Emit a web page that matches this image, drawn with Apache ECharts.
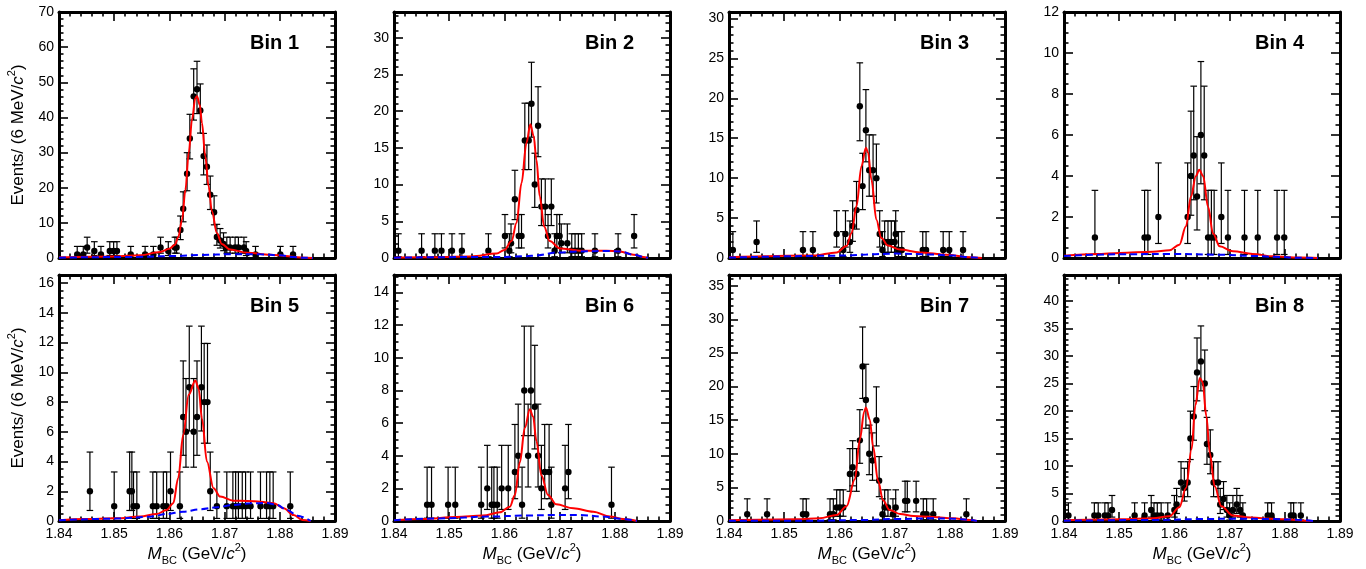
<!DOCTYPE html>
<html>
<head>
<meta charset="utf-8">
<script src="https://cdn.jsdelivr.net/npm/echarts@6/dist/echarts.min.js"></script>
<style>
  html, body { margin: 0; padding: 0; background: #fff; }
  #chart { width: 1366px; height: 569px; }
</style>
</head>
<body>
<div id="chart"></div>
<script>
// M_BC fits in eight bins: data counts [M_BC, events], total fit (red) and background (blue dashed)

const bin1Events = [[1.8433,1],[1.8444,1],[1.8451,3],[1.8464,2],[1.8476,1],[1.8492,2],[1.8499,2],[1.8505,2],[1.8530,1],[1.8556,1],[1.8571,1],[1.8584,3],[1.8598,2],[1.8610,3],[1.8613,3],[1.8620,8],[1.8625,14],[1.8632,24],[1.8637,34],[1.8644,46],[1.8650,48],[1.8656,42],[1.8662,29],[1.8668,26],[1.8674,18],[1.8681,13],[1.8686,6],[1.8692,5],[1.8698,4],[1.8704,3],[1.8710,3],[1.8719,3],[1.8725,3],[1.8735,3],[1.8739,2],[1.8756,1],[1.8801,1],[1.8824,1]];
const bin1Total = [[1.8400,0.2],[1.8500,0.45],[1.8547,0.8],[1.8583,1.7],[1.8600,2.6],[1.8610,3.8],[1.8616,5.9],[1.8623,10.9],[1.8629,19.4],[1.8635,29.9],[1.8641,39.4],[1.8647,45.5],[1.8650,46],[1.8655,43.6],[1.8659,38.4],[1.8665,28.9],[1.8671,20.4],[1.8677,13.3],[1.8686,7.1],[1.8695,4.0],[1.8710,2.4],[1.8741,1.5],[1.8783,0.9],[1.8810,0.6],[1.8838,0.15],[1.8860,0]];
const bin1Background = [[1.8400,0.1],[1.8535,0.3],[1.8607,0.55],[1.8656,0.85],[1.8716,1.1],[1.8765,1.05],[1.8801,0.75],[1.8825,0.3],[1.8840,0.1],[1.8860,0]];

const bin2Events = [[1.8408,1],[1.8450,1],[1.8474,1],[1.8486,1],[1.8505,1],[1.8523,1],[1.8571,1],[1.8601,3],[1.8609,1],[1.8612,2],[1.8619,8],[1.8626,3],[1.8631,3],[1.8637,16],[1.8644,16],[1.8649,21],[1.8655,10],[1.8661,18],[1.8667,7],[1.8674,7],[1.8679,3],[1.8685,7],[1.8691,1],[1.8695,3],[1.8700,3],[1.8703,2],[1.8714,2],[1.8722,1],[1.8728,1],[1.8734,1],[1.8740,1],[1.8764,1],[1.8806,1],[1.8835,3]];
const bin2Total = [[1.8400,0.05],[1.8450,0.1],[1.8540,0.2],[1.8586,0.6],[1.8600,1.1],[1.8613,2.3],[1.8622,4.8],[1.8631,10.2],[1.8640,15.7],[1.8647,18.2],[1.8653,16.6],[1.8658,13.4],[1.8664,8.4],[1.8672,4.3],[1.8682,2.3],[1.8701,1.3],[1.8737,1.0],[1.8785,1.0],[1.8809,0.9],[1.8834,0.45],[1.8855,0.1],[1.8860,0]];
const bin2Background = [[1.8400,0.05],[1.8600,0.15],[1.8640,0.25],[1.8658,0.35],[1.8695,0.75],[1.8737,0.9],[1.8785,0.95],[1.8809,0.9],[1.8834,0.45],[1.8855,0.1],[1.8860,0]];

const bin3Events = [[1.8407,1],[1.8450,2],[1.8534,1],[1.8552,1],[1.8595,3],[1.8607,1],[1.8611,3],[1.8619,2],[1.8624,4],[1.8631,6],[1.8637,19],[1.8642,9],[1.8648,16],[1.8654,11],[1.8661,11],[1.8667,10],[1.8673,3],[1.8678,1],[1.8682,2],[1.8688,2],[1.8694,2],[1.8700,2],[1.8702,3],[1.8707,1],[1.8713,1],[1.8751,1],[1.8757,1],[1.8788,1],[1.8799,1],[1.8824,1]];
const bin3Total = [[1.8400,0.08],[1.8552,0.3],[1.8595,0.7],[1.8613,1.5],[1.8622,3.1],[1.8631,6.5],[1.8640,11.5],[1.8648,13.8],[1.8652,13.2],[1.8658,9.8],[1.8667,4.8],[1.8676,2.5],[1.8688,1.55],[1.8710,1.05],[1.8746,0.7],[1.8794,0.4],[1.8837,0.1],[1.8858,0]];
const bin3Background = [[1.8400,0.05],[1.8613,0.3],[1.8649,0.45],[1.8703,0.55],[1.8764,0.45],[1.8806,0.3],[1.8837,0.1],[1.8858,0]];

const bin4Events = [[1.8456,1],[1.8546,1],[1.8552,1],[1.8571,2],[1.8624,2],[1.8630,4],[1.8635,5],[1.8641,3],[1.8648,6],[1.8654,5],[1.8661,1],[1.8667,1],[1.8672,1],[1.8685,2],[1.8697,1],[1.8727,1],[1.8751,1],[1.8786,1],[1.8799,1]];
const bin4Total = [[1.8400,0.11],[1.8459,0.2],[1.8501,0.25],[1.8561,0.3],[1.8591,0.38],[1.8609,0.65],[1.8621,1.55],[1.8630,3.0],[1.8639,4.0],[1.8645,4.3],[1.8652,4.0],[1.8661,2.5],[1.8670,1.2],[1.8682,0.57],[1.8706,0.33],[1.8742,0.2],[1.8778,0.08],[1.8826,0.02],[1.8860,0]];
const bin4Background = [[1.8400,0.1],[1.8501,0.18],[1.8591,0.2],[1.8682,0.16],[1.8742,0.1],[1.8790,0.05],[1.8826,0.01],[1.8860,0]];

const bin5Events = [[1.8456,2],[1.8500,1],[1.8528,2],[1.8532,2],[1.8535,1],[1.8541,1],[1.8570,1],[1.8577,1],[1.8589,1],[1.8595,1],[1.8602,2],[1.8619,1],[1.8625,7],[1.8630,6],[1.8636,9],[1.8644,6],[1.8650,7],[1.8658,9],[1.8663,8],[1.8669,8],[1.8674,2],[1.8686,1],[1.8704,1],[1.8715,1],[1.8720,1],[1.8725,1],[1.8732,1],[1.8738,1],[1.8747,1],[1.8765,1],[1.8776,1],[1.8782,1],[1.8788,1],[1.8819,1]];
const bin5Total = [[1.8400,0.05],[1.8444,0.13],[1.8504,0.18],[1.8547,0.3],[1.8577,0.47],[1.8595,0.74],[1.8607,1.2],[1.8616,2.9],[1.8625,5.8],[1.8635,8.5],[1.8647,9.45],[1.8653,8.9],[1.8659,6.9],[1.8668,4.0],[1.8680,2.2],[1.8692,1.64],[1.8716,1.37],[1.8741,1.35],[1.8765,1.3],[1.8789,1.2],[1.8807,0.85],[1.8825,0.4],[1.8841,0.07],[1.8856,0]];
const bin5Background = [[1.8400,0.05],[1.8504,0.16],[1.8565,0.29],[1.8595,0.47],[1.8625,0.63],[1.8656,0.79],[1.8686,0.92],[1.8716,1.08],[1.8747,1.19],[1.8777,1.21],[1.8795,1.08],[1.8813,0.74],[1.8832,0.36],[1.8856,0]];

const bin6Events = [[1.8460,1],[1.8468,1],[1.8498,1],[1.8511,1],[1.8558,1],[1.8569,2],[1.8577,1],[1.8581,1],[1.8587,1],[1.8595,2],[1.8607,2],[1.8619,3],[1.8625,4],[1.8632,1],[1.8636,8],[1.8643,4],[1.8648,8],[1.8655,7],[1.8661,4],[1.8667,2],[1.8673,3],[1.8681,3],[1.8685,1],[1.8710,2],[1.8716,3],[1.8794,1]];
const bin6Total = [[1.8400,0.05],[1.8453,0.12],[1.8513,0.25],[1.8561,0.33],[1.8592,0.53],[1.8610,0.88],[1.8619,1.6],[1.8628,3.6],[1.8637,5.7],[1.8646,6.85],[1.8652,6.4],[1.8658,4.9],[1.8667,2.8],[1.8679,1.6],[1.8694,1.02],[1.8725,0.78],[1.8761,0.57],[1.8791,0.27],[1.8815,0.12],[1.8840,0]];
const bin6Background = [[1.8400,0.05],[1.8483,0.16],[1.8574,0.27],[1.8634,0.33],[1.8694,0.37],[1.8737,0.37],[1.8779,0.27],[1.8809,0.14],[1.8840,0]];

const bin7Events = [[1.8433,1],[1.8469,1],[1.8534,1],[1.8540,1],[1.8583,1],[1.8589,1],[1.8595,2],[1.8601,2],[1.8607,2],[1.8619,7],[1.8624,8],[1.8631,7],[1.8637,12],[1.8642,23],[1.8648,18],[1.8654,10],[1.8660,9],[1.8667,15],[1.8672,6],[1.8678,1],[1.8682,2],[1.8688,2],[1.8697,1],[1.8702,2],[1.8719,3],[1.8723,3],[1.8739,3],[1.8752,1],[1.8758,1],[1.8770,1],[1.8830,1]];
const bin7Total = [[1.8400,0.1],[1.8522,0.25],[1.8564,0.4],[1.8595,0.9],[1.8613,2.2],[1.8628,6.2],[1.8637,12.1],[1.8645,16.3],[1.8648,16.9],[1.8655,15.1],[1.8661,11.1],[1.8670,6.0],[1.8679,3.1],[1.8691,1.64],[1.8710,1.04],[1.8734,0.74],[1.8770,0.6],[1.8806,0.4],[1.8837,0.15],[1.8849,0]];
const bin7Background = [[1.8400,0.05],[1.8552,0.05],[1.8643,0.15],[1.8704,0.3],[1.8764,0.4],[1.8806,0.35],[1.8837,0.15],[1.8849,0]];

const bin8Events = [[1.8408,1],[1.8455,1],[1.8462,1],[1.8474,1],[1.8480,1],[1.8487,2],[1.8528,1],[1.8546,1],[1.8558,2],[1.8563,1],[1.8569,1],[1.8576,1],[1.8588,1],[1.8600,2],[1.8604,3],[1.8612,7],[1.8618,6],[1.8624,7],[1.8629,15],[1.8635,19],[1.8641,27],[1.8648,29],[1.8655,25],[1.8659,14],[1.8665,12],[1.8671,7],[1.8679,7],[1.8683,3],[1.8689,4],[1.8695,2],[1.8700,1],[1.8706,2],[1.8713,3],[1.8719,2],[1.8724,1],[1.8769,1],[1.8776,1],[1.8811,1],[1.8816,1],[1.8829,1]];
const bin8Total = [[1.8400,0.1],[1.8501,0.3],[1.8561,0.5],[1.8591,0.85],[1.8609,2.5],[1.8621,6],[1.8631,13],[1.8638,21],[1.8646,26],[1.8651,25.3],[1.8658,19],[1.8664,12.4],[1.8673,6.3],[1.8685,2.7],[1.8706,1.0],[1.8730,0.7],[1.8766,0.45],[1.8802,0.3],[1.8838,0.06],[1.8851,0]];
const bin8Background = [[1.8400,0.06],[1.8561,0.18],[1.8652,0.36],[1.8713,0.42],[1.8773,0.36],[1.8821,0.24],[1.8851,0]];

const binLabels = ['Bin 1', 'Bin 2', 'Bin 3', 'Bin 4', 'Bin 5', 'Bin 6', 'Bin 7', 'Bin 8'];
const yMax = [70, 33.5, 30.8, 12, 16.55, 15.08, 36.6, 44.7];
const yMajorStep = [10, 5, 5, 2, 2, 2, 5, 5];
const yMinorDivisions = [5, 5, 5, 4, 4, 4, 5, 5];
const massRange = [1.84, 1.89];
const massMajorStep = 0.01;
const massMinorDivisions = 5;

const eventsPerBin = [bin1Events, bin2Events, bin3Events, bin4Events, bin5Events, bin6Events, bin7Events, bin8Events];
const totalPerBin = [bin1Total, bin2Total, bin3Total, bin4Total, bin5Total, bin6Total, bin7Total, bin8Total];
const bkgPerBin = [bin1Background, bin2Background, bin3Background, bin4Background, bin5Background, bin6Background, bin7Background, bin8Background];

// Frame geometry of the 2 x 4 panel layout
const colLeft = [59, 394, 729, 1064];
const rowTop = [12, 275];
const frameW = 276;
const frameH = 246;

const FONT = '"Liberation Sans", Arial, Helvetica, sans-serif';

// 68.27% central Poisson (Garwood) interval for an observed count n
function poissonCdf(n, mu) {
  let term = Math.exp(-mu), sum = term;
  for (let k = 1; k <= n; k++) { term *= mu / k; sum += term; }
  return sum;
}
function poissonInterval(n) {
  const a = (1 - 0.682689) / 2;
  let lo = 0;
  if (n > 0) {
    let l = 0, h = n;
    for (let i = 0; i < 60; i++) {
      const m = (l + h) / 2;
      if (1 - poissonCdf(n - 1, m) < a) l = m; else h = m;
    }
    lo = (l + h) / 2;
  }
  let l = n, h = n + 10 * Math.sqrt(n + 1) + 10;
  for (let i = 0; i < 60; i++) {
    const m = (l + h) / 2;
    if (poissonCdf(n, m) > a) l = m; else h = m;
  }
  return [lo, (l + h) / 2];
}

// Marker with asymmetric error bar and end caps
function renderDataPoint(params, api) {
  const x = api.value(0), y = api.value(1);
  const p = api.coord([x, y]);
  const pl = api.coord([x, api.value(2)]);
  const ph = api.coord([x, api.value(3)]);
  const cap = 3.3;
  const st = { stroke: '#000', lineWidth: 1.2 };
  return {
    type: 'group',
    children: [
      { type: 'line', shape: { x1: p[0], y1: pl[1], x2: p[0], y2: ph[1] }, style: st },
      { type: 'line', shape: { x1: p[0] - cap, y1: ph[1], x2: p[0] + cap, y2: ph[1] }, style: st },
      { type: 'line', shape: { x1: p[0] - cap, y1: pl[1], x2: p[0] + cap, y2: pl[1] }, style: st },
      { type: 'circle', shape: { cx: p[0], cy: p[1], r: 3.2 }, style: { fill: '#000' } }
    ]
  };
}

const grids = [], xAxes = [], yAxes = [], series = [], graphics = [];

const titleRich = {
  i: { fontFamily: FONT, fontSize: 17, fontStyle: 'italic', color: '#000' },
  sub: { fontFamily: FONT, fontSize: 11, color: '#000', verticalAlign: 'bottom', lineHeight: 6 },
  sup: { fontFamily: FONT, fontSize: 11, color: '#000', verticalAlign: 'top', lineHeight: 14 }
};

const frameLine = { show: true, onZero: false, lineStyle: { color: '#000', width: 3 } };
const majorTick = { show: true, inside: true, length: 9, lineStyle: { color: '#000', width: 1.6 } };
function minorTickOf(n) {
  return { show: true, splitNumber: n, length: 4.5, lineStyle: { color: '#000', width: 1.6 } };
}

for (let b = 0; b < 8; b++) {
  const row = Math.floor(b / 4), col = b % 4;
  const left = colLeft[col], top = rowTop[row];
  grids.push({ left: left, top: top, width: frameW, height: frameH, containLabel: false, show: false });

  const bottomRow = row === 1;
  const firstCol = col === 0;

  const xCommon = {
    gridIndex: b, type: 'value', min: massRange[0], max: massRange[1], interval: massMajorStep,
    splitLine: { show: false }, axisLine: frameLine, axisTick: majorTick,
    minorTick: minorTickOf(massMinorDivisions)
  };
  xAxes.push(Object.assign({}, xCommon, {
    position: 'bottom',
    axisLabel: { show: bottomRow, margin: 6, color: '#000', fontFamily: FONT, fontSize: 14,
      formatter: v => v.toFixed(2) },
    name: bottomRow ? '{i|M}{sub|BC} (GeV/{i|c}{sup|2})' : '',
    nameLocation: 'middle', nameGap: 21,
    nameTextStyle: { fontFamily: FONT, fontSize: 17, color: '#000', lineHeight: 24, rich: titleRich }
  }));
  xAxes.push(Object.assign({}, xCommon, { position: 'top', axisLabel: { show: false } }));

  const maxIsTick = Math.abs(yMax[b] / yMajorStep[b] - Math.round(yMax[b] / yMajorStep[b])) < 1e-6;
  const yCommon = {
    gridIndex: b, type: 'value', min: 0, max: yMax[b], interval: yMajorStep[b],
    splitLine: { show: false }, axisLine: frameLine, axisTick: majorTick,
    minorTick: minorTickOf(yMinorDivisions[b])
  };
  yAxes.push(Object.assign({}, yCommon, {
    position: 'left',
    axisLabel: { show: true, margin: 5, color: '#000', fontFamily: FONT, fontSize: 14, showMaxLabel: maxIsTick },
    name: firstCol ? 'Events/ (6 MeV/{i|c}{sup|2})' : '',
    nameLocation: 'middle', nameGap: 29,
    nameTextStyle: { fontFamily: FONT, fontSize: 17, color: '#000', lineHeight: 24, rich: titleRich }
  }));
  yAxes.push(Object.assign({}, yCommon, { position: 'right', axisLabel: { show: false } }));

  const pointData = eventsPerBin[b].map(([m, n]) => {
    const [lo, hi] = poissonInterval(n);
    return [m, n, lo, hi];
  });

  const xi = 2 * b, yi = 2 * b;
  series.push({
    type: 'custom', name: binLabels[b] + ' data', xAxisIndex: xi, yAxisIndex: yi,
    renderItem: renderDataPoint, data: pointData, z: 2, silent: true,
    encode: { x: 0, y: [1, 2, 3] }
  });
  series.push({
    type: 'line', name: binLabels[b] + ' fit', xAxisIndex: xi, yAxisIndex: yi,
    data: totalPerBin[b], symbol: 'none', smooth: 0.35, smoothMonotone: 'x',
    lineStyle: { color: '#ff0000', width: 2 }, z: 3, silent: true, clip: true
  });
  series.push({
    type: 'line', name: binLabels[b] + ' background', xAxisIndex: xi, yAxisIndex: yi,
    data: bkgPerBin[b], symbol: 'none', smooth: 0.35, smoothMonotone: 'x',
    lineStyle: { color: '#0000ff', width: 2, type: [7, 4] }, z: 4, silent: true, clip: true
  });

  graphics.push({
    type: 'text', right: 1366 - (left + frameW - 36), top: top + 21, z: 20, silent: true,
    style: { text: binLabels[b], font: 'bold 20px ' + FONT, fill: '#000' }
  });
}

const chart = echarts.init(document.getElementById('chart'), null, { renderer: 'canvas' });
chart.setOption({
  backgroundColor: '#ffffff',
  animation: false,
  grid: grids,
  xAxis: xAxes,
  yAxis: yAxes,
  series: series,
  graphic: graphics
});
</script>
</body>
</html>
